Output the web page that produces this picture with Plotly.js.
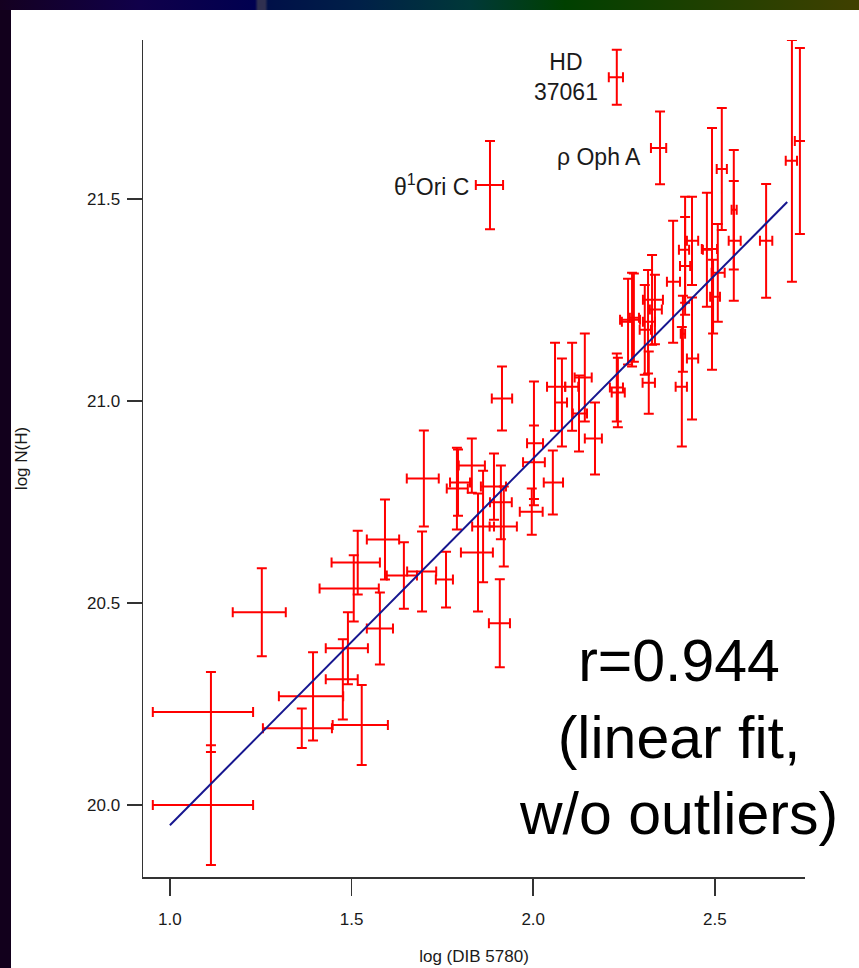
<!DOCTYPE html>
<html>
<head>
<meta charset="utf-8">
<script src="https://cdn.plot.ly/plotly-3.0.1.min.js"></script>
<style>
  html, body { margin: 0; padding: 0; width: 859px; height: 968px; overflow: hidden; background: #12001c; }
  #topbar { position: absolute; left: 0; top: 0; width: 859px; height: 10px;
    background: linear-gradient(to right, #140020 0px, #10004a 140px, #000050 255px, #303050 258px, #303050 265px, #001048 268px, #002048 360px, #003838 470px, #004000 565px, #1e4000 700px, #404000 859px); }
  #panel { position: absolute; left: 11px; top: 10px; width: 848px; height: 958px; background: #ffffff; }
  #chart { position: absolute; left: 0; top: 0; width: 859px; height: 968px; }
</style>
</head>
<body>
<div id="topbar"></div>
<div id="panel"></div>
<div id="chart"></div>
<script>
// ---- data: log(DIB 5780) vs log N(H) ----
const logDIB = [1.113,1.113,1.253,1.394,1.363,1.528,1.490,1.476,1.578,1.517,1.506,1.592,1.699,1.760,1.908,1.914,1.644,1.694,
  1.831,1.793,1.790,1.892,1.911,1.919,1.862,1.848,
  2.002,2.002,1.996,2.060,2.079,2.107,2.142,2.126,2.170,2.054,
  2.385,2.327,2.316,2.307,2.272,2.261,2.277,2.230,2.233,2.318,2.335,
  2.712,2.734,2.641,2.552,2.552,2.519,2.492,2.478,2.508,2.495,2.437,2.418,2.418,2.412,2.409,2.437];
const logNH = [20.230,20.000,20.477,20.269,20.190,20.198,20.388,20.311,20.437,20.600,20.536,20.657,20.808,20.558,20.450,21.006,20.568,20.578,
  20.840,20.798,20.783,20.788,20.749,20.689,20.689,20.625,
  20.895,20.848,20.726,21.035,20.996,21.035,21.058,20.969,20.907,20.798,
  21.295,21.250,21.196,21.176,21.201,21.196,21.206,21.033,21.021,21.045,21.226,
  21.594,21.643,21.396,21.396,21.473,21.574,21.376,21.374,21.317,21.258,21.396,21.374,21.334,21.166,21.035,21.105];
const errDIBminus = [.160,.160,.080,.094,.107,.080,.061,.047,.036,.072,.094,.050,.047,.028,.030,.028,.047,.041,
  .036,.022,.028,.036,.030,.039,.030,.047,
  .019,.030,.033,.022,.019,.019,.028,.017,.028,.025,
  .017,.025,.014,.014,.033,.017,.011,.019,.017,.017,.014,
  .017,.014,.017,.014,.006,.014,.028,.011,.017,.008,.014,.017,.014,.006,.017,.014];
const errDIBplus = [.116,.116,.066,.083,.083,.072,.055,.041,.036,.061,.069,.039,.041,.019,.028,.028,.036,.039,
  .036,.033,.030,.033,.030,.036,.030,.041,
  .025,.030,.030,.028,.014,.017,.019,.022,.019,.028,
  .019,.030,.019,.017,.022,.014,.014,.017,.019,.017,.019,
  .014,.017,.017,.019,.008,.014,.014,.014,.019,.019,.017,.011,.014,.006,.014,.017];
const errNH = [.099,.148,.109,.109,.049,.099,.089,.099,.089,.079,.082,.099,.119,.069,.109,.079,.082,.099,
  .067,.082,.101,.082,.091,.099,.138,.146,
  .153,.091,.057,.109,.109,.109,.109,.094,.089,.079,
  .151,.111,.128,.111,.116,.106,.109,.084,.086,.077,.086,
  .299,.230,.141,.148,.148,.151,.299,.141,.121,.091,.109,.131,.121,.094,.148,.151];

// outliers (labelled)
const outNames = ['HD<br>37061', '\u03c1 Oph A', '\u03b8<sup>1</sup>Ori C'];
const outDIB = [2.230, 2.349, 1.881];
const outNH = [21.801, 21.626, 21.534];
const outDIBminus = [.022, .025, .039];
const outDIBplus = [.017, .017, .036];
const outErrNH = [.068, .090, .109];

// linear fit (without outliers)
const fitDIB = [1.000, 2.699];
const fitNH = [19.950, 21.492];
const fitText = 'r=0.944<br>(linear fit,<br>w/o outliers)';

// ticks
const xTicks = [1.0, 1.5, 2.0, 2.5];
const xTickText = ['1.0', '1.5', '2.0', '2.5'];
const yTicks = [20.0, 20.5, 21.0, 21.5];
const yTickText = ['20.0', '20.5', '21.0', '21.5'];

const RED = '#ff0000';
const FONT = 'Liberation Sans, Arial, Helvetica, sans-serif';

function errX(plus, minus) {
  return {type: 'data', symmetric: false, array: plus, arrayminus: minus, color: RED, thickness: 2, width: 5};
}
function errY(arr) {
  return {type: 'data', symmetric: true, array: arr, color: RED, thickness: 2, width: 5};
}

const traces = [
  {x: logDIB, y: logNH, type: 'scatter', mode: 'markers', name: 'sight lines',
   marker: {size: 2, color: RED}, error_x: errX(errDIBplus, errDIBminus), error_y: errY(errNH)},
  {x: outDIB, y: outNH, type: 'scatter', mode: 'markers', name: 'outliers',
   marker: {size: 2, color: RED}, error_x: errX(outDIBplus, outDIBminus), error_y: errY(outErrNH)},
  {x: fitDIB, y: fitNH, type: 'scatter', mode: 'lines', name: 'linear fit',
   line: {color: '#16168f', width: 2}}
];

const labelPos = [
  {xanchor: 'center', yanchor: 'middle', dx: -0.140, dy: 0.0},
  {xanchor: 'right', yanchor: 'middle', dx: -0.048, dy: -0.022},
  {xanchor: 'right', yanchor: 'middle', dx: -0.052, dy: 0.0}
];
const annotations = outNames.map((t, i) => ({
  x: outDIB[i] + labelPos[i].dx, y: outNH[i] + labelPos[i].dy, xref: 'x', yref: 'y',
  text: t, showarrow: false, xanchor: labelPos[i].xanchor, yanchor: labelPos[i].yanchor,
  font: {family: FONT, size: 23, color: '#1a1a1a'}
}));
annotations.push({
  x: 2.400, y: 20.166, xref: 'x', yref: 'y', text: fitText, showarrow: false,
  xanchor: 'center', yanchor: 'middle', align: 'center',
  font: {family: FONT, size: 59, color: '#000000'}
});

const layout = {
  width: 859, height: 968,
  margin: {l: 143, r: 54, t: 40, b: 91},
  paper_bgcolor: 'rgba(0,0,0,0)', plot_bgcolor: 'rgba(0,0,0,0)',
  showlegend: false,
  font: {family: FONT, color: '#1a1a1a'},
  xaxis: {
    range: [0.926, 2.748], tickvals: xTicks, ticktext: xTickText,
    ticks: 'outside', ticklen: 17, tickwidth: 1.5, tickcolor: '#333333',
    showline: true, linecolor: '#333333', linewidth: 1.5,
    showgrid: false, zeroline: false, ticklabelstandoff: 9,
    tickfont: {family: FONT, size: 17, color: '#1a1a1a'},
    title: {text: 'log (DIB 5780)', font: {family: FONT, size: 17, color: '#1a1a1a'}, standoff: 22}
  },
  yaxis: {
    range: [19.822, 21.893], tickvals: yTicks, ticktext: yTickText,
    ticks: 'outside', ticklen: 15, tickwidth: 1.5, tickcolor: '#333333',
    showline: true, linecolor: '#333333', linewidth: 1.5,
    showgrid: false, zeroline: false, ticklabelstandoff: 3,
    tickfont: {family: FONT, size: 17, color: '#1a1a1a'},
    title: {text: 'log N(H)', font: {family: FONT, size: 17, color: '#1a1a1a'}, standoff: 55}
  },
  annotations: annotations
};

Plotly.newPlot('chart', traces, layout, {displayModeBar: false, staticPlot: true});
</script>
</body>
</html>
